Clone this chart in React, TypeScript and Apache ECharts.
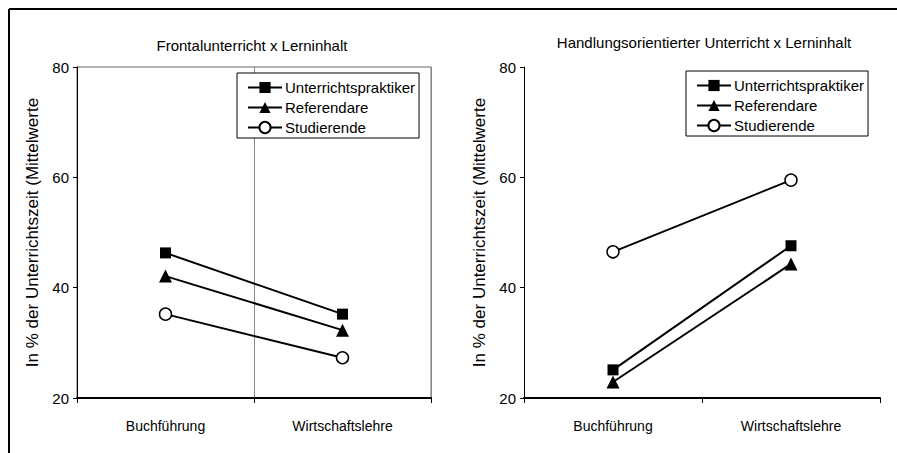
import React, { useEffect, useRef } from "react";
import * as echarts from "echarts";

const categories = ["Buchführung", "Wirtschaftslehre"];
const seriesNames = ["Unterrichtspraktiker", "Referendare", "Studierende"];
const yTicks = [20, 40, 60, 80];

// Frontalunterricht x Lerninhalt
const frontalPraktiker = [46.3, 35.2];
const frontalReferendare = [42.1, 32.3];
const frontalStudierende = [35.2, 27.3];

// Handlungsorientierter Unterricht x Lerninhalt
const handlPraktiker = [25.1, 47.6];
const handlReferendare = [22.9, 44.3];
const handlStudierende = [46.5, 59.5];

const titles = ["Frontalunterricht x Lerninhalt", "Handlungsorientierter Unterricht x Lerninhalt"];
const yName = "In % der Unterrichtszeit (Mittelwerte";

const FONT = "'Liberation Sans', Arial, Helvetica, sans-serif";

export default function App() {
  const ref = useRef<HTMLDivElement>(null);
  useEffect(() => {
    if (!ref.current) return;
    const chart = echarts.init(ref.current, undefined, { renderer: "svg" });
    const symbols = ["rect", "triangle", "circle"];
    const symSizes = [11, 13, 12];
    const mk = (name: string, idx: number, data: number[], gi: number) => ({
      type: "line",
      name,
      xAxisIndex: gi,
      yAxisIndex: gi,
      data,
      symbol: symbols[idx],
      symbolSize: symSizes[idx],
      showSymbol: true,
      lineStyle: { color: "#000", width: 2 },
      itemStyle: {
        color: idx === 2 ? "#fff" : "#000",
        borderColor: "#000",
        borderWidth: idx === 2 ? 1.5 : 0,
      },
      emphasis: { disabled: true },
      z: 3 - idx + 2,
    });
    const yAxisBase = (gi: number) => ({
      type: "value",
      gridIndex: gi,
      min: 20,
      max: 80,
      interval: 20,
      name: yName,
      nameLocation: "middle",
      nameGap: 36,
      nameTextStyle: { fontFamily: FONT, fontSize: 17, color: "#000" },
      axisLine: { show: true, lineStyle: { color: "#000", width: 1 } },
      axisTick: { show: true, length: 4, lineStyle: { color: "#000" } },
      axisLabel: {
        fontFamily: FONT,
        fontSize: 15,
        color: "#000",
        margin: 8,
        customValues: yTicks,
      },
      splitLine: { show: false },
    });
    const xAxisBase = (gi: number) => ({
      type: "category",
      gridIndex: gi,
      data: categories,
      boundaryGap: true,
      axisLine: { show: true, lineStyle: { color: "#000", width: 2 } },
      axisTick: { show: true, length: 5, lineStyle: { color: "#000" } },
      axisLabel: { fontFamily: FONT, fontSize: 14, color: "#000", margin: 21 },
      splitLine: { show: gi === 0, lineStyle: { color: "#888", width: 1 } },
    });
    const legendBase = (left: number, top: number, width: number) => ({
      orient: "vertical",
      left,
      top,
      width,
      data: seriesNames,
      borderColor: "#000",
      borderWidth: 1,
      backgroundColor: "#fff",
      padding: [7, 4, 3, 10],
      itemWidth: 34,
      itemHeight: 14,
      itemGap: 5,
      selectedMode: false,
      textStyle: { fontFamily: FONT, fontSize: 15, color: "#000", lineHeight: 14, padding: [0, 0, 0, -2] },
    });
    chart.setOption({
      animation: false,
      backgroundColor: "#fff",
      title: [
        {
          text: titles[0],
          left: 247,
          top: 33,
          textAlign: "center",
          textStyle: { fontFamily: FONT, fontSize: 15, fontWeight: "normal", color: "#000" },
        },
        {
          text: titles[1],
          left: 699,
          top: 30,
          textAlign: "center",
          textStyle: { fontFamily: FONT, fontSize: 15, fontWeight: "normal", color: "#000" },
        },
      ],
      legend: [legendBase(237, 73, 180), legendBase(686, 71, 188)],
      grid: [
        { left: 77, top: 67, width: 354, height: 331, show: true, borderColor: "#666", borderWidth: 1, backgroundColor: "transparent" },
        { left: 524, top: 67, width: 356, height: 331 },
      ],
      xAxis: [xAxisBase(0), xAxisBase(1)],
      yAxis: [yAxisBase(0), yAxisBase(1)],
      series: [
        mk(seriesNames[0], 0, frontalPraktiker, 0),
        mk(seriesNames[1], 1, frontalReferendare, 0),
        mk(seriesNames[2], 2, frontalStudierende, 0),
        mk(seriesNames[0], 0, handlPraktiker, 1),
        mk(seriesNames[1], 1, handlReferendare, 1),
        mk(seriesNames[2], 2, handlStudierende, 1),
      ],
      graphic: [
        { type: "line", shape: { x1: 9, y1: 9, x2: 9, y2: 453 }, style: { stroke: "#000", lineWidth: 2 } },
        { type: "line", shape: { x1: 9, y1: 9, x2: 897, y2: 9 }, style: { stroke: "#000", lineWidth: 2 } },
      ],
    });
    return () => chart.dispose();
  }, []);
  return (
    <div
      ref={ref}
      style={{ position: "absolute", left: 0, top: 0, width: 897, height: 453 }}
    />
  );
}
